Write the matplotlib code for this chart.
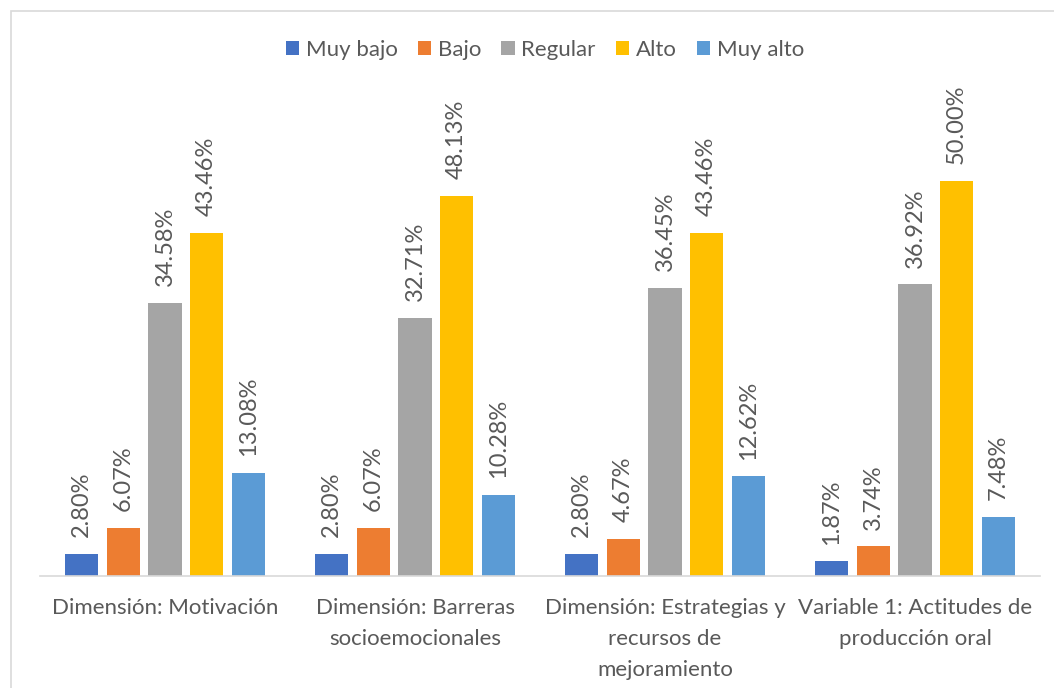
import matplotlib
matplotlib.use("Agg")
import matplotlib.pyplot as plt
from matplotlib.patches import Rectangle
import numpy as np

categories = ["Dimensión: Motivación", "Dimensión: Barreras\nsocioemocionales",
              "Dimensión: Estrategias y\nrecursos de\nmejoramiento",
              "Variable 1: Actitudes de\nproducción oral"]
series_names = ["Muy bajo", "Bajo", "Regular", "Alto", "Muy alto"]
muy_bajo = [2.80, 2.80, 2.80, 1.87]
bajo = [6.07, 6.07, 4.67, 3.74]
regular = [34.58, 32.71, 36.45, 36.92]
alto = [43.46, 48.13, 43.46, 50.00]
muy_alto = [13.08, 10.28, 12.62, 7.48]
colors = ["#4472C4", "#ED7D31", "#A5A5A5", "#FFC000", "#5B9BD5"]

plt.rcParams['font.family'] = ['Lato', 'DejaVu Sans']
txt = "#595959"

fig = plt.figure(figsize=(10.54, 6.88), dpi=100)
W, H = 1054, 688
ax = fig.add_axes([40 / W, 1 - 576 / H, 1000 / W, (576 - 102) / H])

fig.patches.append(Rectangle((10.5 / W, -0.1), 1.2, 1 - 11 / H + 0.1, transform=fig.transFigure,
                             fill=False, edgecolor="#D9D9D9", linewidth=1.2))

x = np.arange(len(categories))
data = [muy_bajo, bajo, regular, alto, muy_alto]
pitch = 0.1667
bw = 0.134
for i, (vals, name, c) in enumerate(zip(data, series_names, colors)):
    pos = x + (i - 2) * pitch
    ax.bar(pos, vals, width=bw, color=c, label=name, zorder=2)
    for p, v in zip(pos, vals):
        ax.annotate(f"{v:.2f}%", (p, v), xytext=(0, 12), textcoords="offset points",
                    rotation=90, ha="center", va="bottom", fontsize=17, color=txt,
                    annotation_clip=False)

ax.set_xlim(-0.5, len(categories) - 0.5)
ax.set_ylim(0, 60)
ax.set_yticks([])
ax.set_xticks(x)
ax.set_xticklabels(categories, fontsize=16, color=txt, linespacing=1.68)
ax.tick_params(axis='x', length=0, pad=16)
for s in ["top", "left", "right"]:
    ax.spines[s].set_visible(False)
ax.spines["bottom"].set_color("#D9D9D9")
ax.spines["bottom"].set_linewidth(1.2)

fig.legend(loc="center", bbox_to_anchor=(545 / W, 1 - 50 / H), ncol=5, frameon=False,
           fontsize=16, labelcolor=txt, handlelength=0.6, handleheight=0.6,
           handletextpad=0.3, columnspacing=0.9)

fig.savefig("out.png", dpi=100)
